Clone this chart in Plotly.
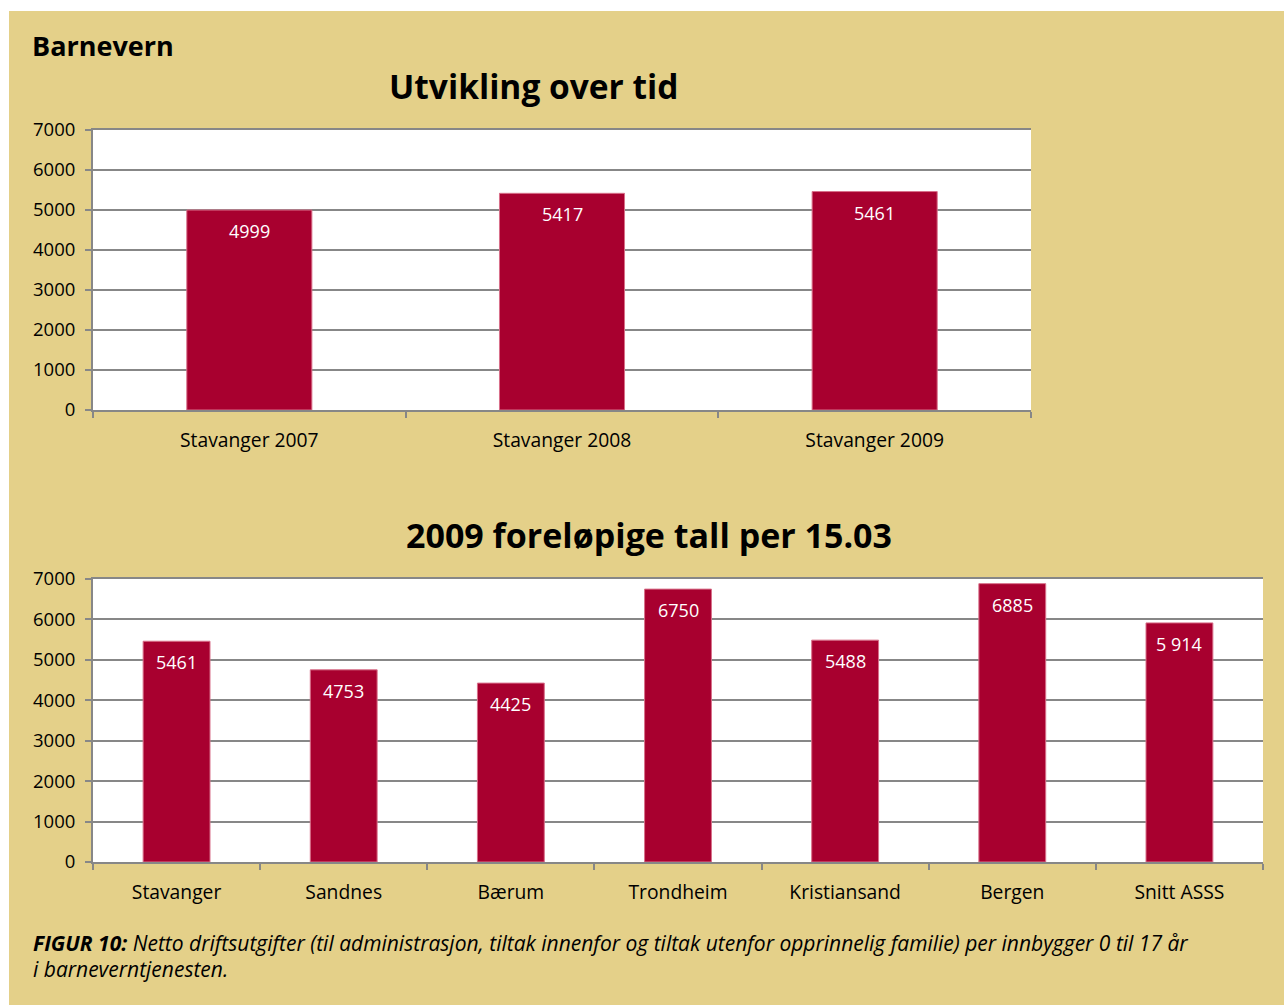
import plotly.graph_objects as go

W, H = 1284, 1005

top_categories = ["Stavanger 2007", "Stavanger 2008", "Stavanger 2009"]
top_values = [4999, 5417, 5461]
top_labels = ["4999", "5417", "5461"]

bottom_categories = ["Stavanger", "Sandnes", "Bærum", "Trondheim", "Kristiansand", "Bergen", "Snitt ASSS"]
bottom_values = [5461, 4753, 4425, 6750, 5488, 6885, 5914]
bottom_labels = ["5461", "4753", "4425", "6750", "5488", "6885", "5 914"]

y_tickvals = [0, 1000, 2000, 3000, 4000, 5000, 6000, 7000]

BAR = "#A8002F"
TAN = "#E4D089"
GRID = "#878787"
FONT = "Open Sans"

def px_x(x):
    return x / W

def px_y(y):
    return 1 - y / H

fig = go.Figure()

fig.add_trace(go.Bar(
    x=top_categories, y=top_values, width=0.4,
    marker=dict(color=BAR, line=dict(color="#D8708A", width=1)),
    xaxis="x", yaxis="y", hoverinfo="skip", showlegend=False,
))
fig.add_trace(go.Bar(
    x=bottom_categories, y=bottom_values, width=0.4,
    marker=dict(color=BAR, line=dict(color="#D8708A", width=1)),
    xaxis="x2", yaxis="y2", hoverinfo="skip", showlegend=False,
))

annotations = []
for c, v, t in zip(top_categories, top_values, top_labels):
    annotations.append(dict(x=c, y=v, xref="x", yref="y", text=t, showarrow=False,
                            yanchor="top", yshift=-7,
                            font=dict(family=FONT, size=18, color="white")))
for c, v, t in zip(bottom_categories, bottom_values, bottom_labels):
    annotations.append(dict(x=c, y=v, xref="x2", yref="y2", text=t, showarrow=False,
                            yanchor="top", yshift=-7,
                            font=dict(family=FONT, size=18, color="white")))

annotations += [
    dict(x=px_x(30), y=px_y(46), xref="paper", yref="paper", xanchor="left", yanchor="middle",
         text="<b>Barnevern</b>", showarrow=False, font=dict(family=FONT, size=27, color="black")),
    dict(x=px_x(533), y=px_y(86), xref="paper", yref="paper", xanchor="center", yanchor="middle",
         text="<b>Utvikling over tid</b>", showarrow=False, font=dict(family=FONT, size=33.5, color="black")),
    dict(x=px_x(649), y=px_y(535), xref="paper", yref="paper", xanchor="center", yanchor="middle",
         text="<b>2009 foreløpige tall per 15.03</b>", showarrow=False, font=dict(family=FONT, size=34, color="black")),
    dict(x=px_x(31), y=px_y(943), xref="paper", yref="paper", xanchor="left", yanchor="middle",
         text="<b><i>FIGUR 10:</i></b><i> Netto driftsutgifter (til administrasjon, tiltak innenfor og tiltak utenfor opprinnelig familie) per innbygger 0 til 17 år</i>",
         showarrow=False, font=dict(family=FONT, size=21, color="black")),
    dict(x=px_x(31), y=px_y(969), xref="paper", yref="paper", xanchor="left", yanchor="middle",
         text="<i>i barneverntjenesten.</i>",
         showarrow=False, font=dict(family=FONT, size=21, color="black")),
]

yaxis_common = dict(
    range=[0, 7000], tickvals=y_tickvals, showgrid=True, gridcolor=GRID, gridwidth=2,
    showline=True, linecolor=GRID, linewidth=2, ticks="outside", ticklen=6, tickcolor=GRID,
    tickwidth=2, ticklabelstandoff=6, tickfont=dict(family=FONT, size=18.5, color="black"),
    zeroline=False, fixedrange=True, automargin=False,
)
xaxis_common = dict(
    showline=True, mirror=True, linecolor=GRID, linewidth=2, ticks="outside", ticklen=6, tickcolor=GRID,
    tickwidth=2, tickson="boundaries", ticklabelstandoff=12,
    tickfont=dict(family=FONT, size=19.3, color="black"),
    showgrid=False, fixedrange=True, automargin=False,
)

fig.update_layout(
    width=W, height=H,
    margin=dict(l=0, r=0, t=0, b=0),
    paper_bgcolor=TAN,
    plot_bgcolor="white",
    xaxis=dict(domain=[px_x(93), px_x(1031)], anchor="y", **xaxis_common),
    yaxis=dict(domain=[px_y(410), px_y(130)], anchor="x", **yaxis_common),
    xaxis2=dict(domain=[px_x(93), px_x(1263)], anchor="y2", **xaxis_common),
    yaxis2=dict(domain=[px_y(862), px_y(579)], anchor="x2", **yaxis_common),
    annotations=annotations,
    shapes=[
        dict(type="rect", xref="paper", yref="paper", x0=0, x1=px_x(9), y0=0, y1=1,
             fillcolor="white", line=dict(width=0), layer="below"),
        dict(type="rect", xref="paper", yref="paper", x0=0, x1=1, y0=px_y(11), y1=1,
             fillcolor="white", line=dict(width=0), layer="below"),
    ],
)

fig.write_html("out.html", config={"displayModeBar": False},
               post_script="document.body.style.margin='0';document.body.style.overflow='hidden';")
